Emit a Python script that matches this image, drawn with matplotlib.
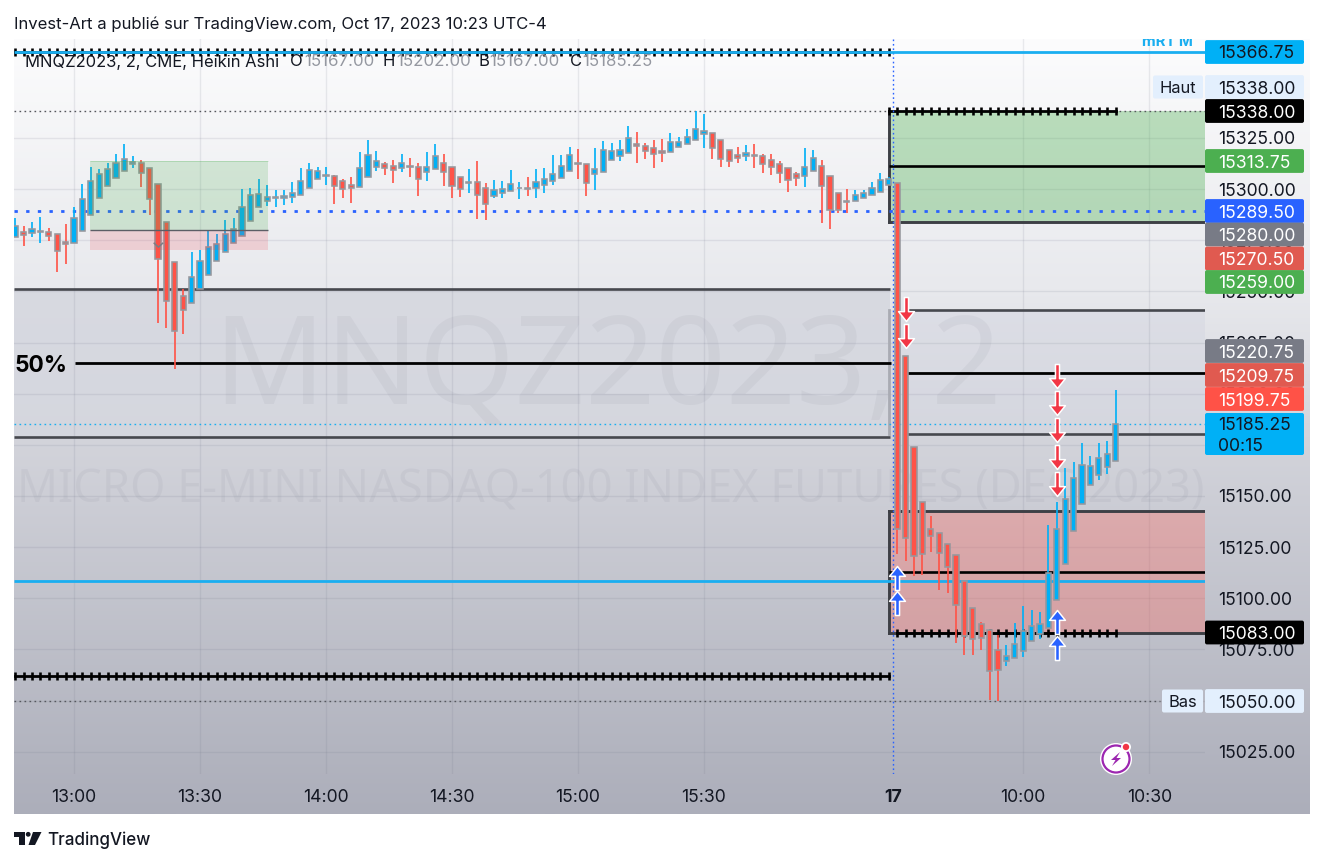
import numpy as np
import matplotlib
matplotlib.use("Agg")
import matplotlib.pyplot as plt
from matplotlib.patches import Rectangle, FancyBboxPatch, Circle, Polygon
from matplotlib.path import Path

FONT = "Inter"
plt.rcParams["font.family"] = [FONT, "DejaVu Sans"]

# ---- data: points above 15000, one value per 2-minute bar
BASE = 15000
first_bar = -7
opens = [276.75,279.25,278.5,279,279.25,278,274,273.75,279.5,287.25,295.75,301.25,305.5,309,312,312.5,310.25,302.25,284,264.5,
 247.75,244.25,251,258,264.75,269,273.5,277.25,284.5,291,294.25,295.5,295.75,296,297,300.5,304.75,306.5,306.5,304,
 301.75,301,305.75,311,312.25,311.5,310.25,311.25,311,308.25,309.75,312.5,310.75,305.75,302.75,303.25,300.5,296.75,298,299,
 300.5,300.5,300.5,301.75,303.75,305.5,308.75,312.75,312.25,307.5,308.5,314,316.25,317.75,322,321,320,318.5,318.25,320.5,
 322,323.75,326.75,327.5,323.75,319.25,316.75,316,316.75,316.25,314,312.25,310.25,307.5,306.5,308.75,311.5,306.5,298,294.25,
 294,295.75,297,298.5,301.75,303,218.5,173.75,147,134,131.75,126.75,121,108.5,95,87.5,84.25,74.5,69.5,71,
 74,79.25,82.5,85.25,99,116.5,132.75,146,155.25,160,164,167]
highs = [285.75,282,283.75,286.5,280.75,278.25,282.75,291,302.25,310.75,309.75,312.5,317,322,316.25,314,310.25,302.25,284,264.5,
 251,269,270.25,280,278.25,285,285.75,300,300.5,305,302,299.5,299.5,303.25,310.5,312.75,311,311,307,305,
 306,318,324,318.75,313,314.25,317.25,315.25,312.5,318,322,317.25,310.75,305.75,309.75,313.75,303,304.5,303.75,309.25,
 303.5,306,309.75,310.25,316.75,316.75,320.5,319.5,312.25,320,323.25,322.5,323.75,331,328,322.5,323.75,324.25,327.5,325.25,
 329.5,338,336.75,327.5,323.75,319.25,320.75,321.5,322.25,317.25,317,313.75,310.25,308.25,320,319,314,306.5,298,300,
 299.5,299.75,303.5,308,306,303,218.5,173.75,147,140,131.75,126.75,121,108.5,95,88.5,84.25,82.25,77,88,
 96,94.5,93.5,136,147,163.5,166.5,175.75,169.5,175.75,176.75,202]
lows = [276.75,272.25,276.5,273.5,274.5,259.5,263.25,273.75,279.5,287.25,295.75,301.25,305.5,309,310.25,301,287.25,234.75,232,212.25,
 229,244.25,251,258,264.75,269,273.5,277.25,284.5,291,291.5,291,292.25,293,297,300.5,304.75,301.75,292.75,295.75,
 293.25,301,305.75,308.75,307,303,308.25,306,296.5,304,309.75,301.5,295.75,296.25,298,285.25,285,295.75,295.75,299,
 295.25,296.5,295.75,298,302,305.5,308.75,305,296.5,299.75,308.5,314,313.5,317.75,312.5,314.5,310.25,313,318.25,320.5,
 322,323.75,320.25,314.75,310.75,310.75,312.5,313.75,310.25,308,307,303,298.5,301.25,301,308.75,283.5,280.5,288.5,288.5,
 294,295.75,297,298.5,301.75,121.5,118,111,111.5,122.5,104,102.5,78,72.5,72.5,74.5,50.5,50,66.75,71,
 71.5,79.25,80.25,85.25,99,116.5,132.75,146,155.25,157.75,160.5,167]
closes = [282,277.5,280.25,279.5,277.25,269.75,273,285.75,295,304,307.25,309.75,312.5,314.5,313.25,308,295,265.75,245.5,230.75,
 240.75,257,265,271.5,273,278,280.5,291,297.25,297.5,296.25,296,296.5,298,303.75,309.25,308.75,307,301.5,300,
 300.75,310.25,316.5,313.75,310.25,309.25,312.5,310.75,305,310.75,316,308.5,301.25,300,303.25,297.25,292.75,299.75,300,302.25,
 300.75,300,303.5,305,307.5,311.5,316.5,312,302.75,310,319.25,318.75,319.25,325,321.25,318.75,317,317.75,323,323,
 325.25,329.5,328.5,320.25,314.75,313.75,315,317.5,316.25,312,311,308,304.5,305.5,310.75,315,301.25,290,290,293.75,
 297.25,298.25,300.75,304.5,304.75,134,129.25,120.5,121.5,130.25,122,115.25,96.5,81.75,80.25,80.5,64.25,65,72,77.5,
 83.75,86.25,87.25,112.25,134,148.5,159,165,164.5,168.5,170.5,185.25]

time_ticks = [0, 15, 30, 45, 60, 75, 97.52, 113, 128]
time_labels = ["13:00", "13:30", "14:00", "14:30", "15:00", "15:30", "17", "10:00", "10:30"]
price_ticks = [15025, 15050, 15075, 15100, 15125, 15150, 15175, 15200, 15225, 15250, 15275, 15300, 15325]

tag_labels = ["15366.75", "15338.00", "15338.00", "15313.75", "15289.50", "15280.00", "15270.50", "15259.00",
              "15220.75", "15209.75", "15199.75", "15083.00", "15050.00"]
tag_fill = ["#00b0f6", "#e3effd", "#000000", "#4caf50", "#2962ff", "#787b86", "#e05a50", "#4caf50",
            "#787b86", "#e05a50", "#ff5247", "#000000", "#e3effd"]
tag_ink = ["#131722", "#131722", "#ffffff", "#ffffff", "#ffffff", "#ffffff", "#ffffff", "#ffffff",
           "#ffffff", "#ffffff", "#ffffff", "#ffffff", "#131722"]
tag_pixel_y = [52, 87, 111, 161, 211, 234.5, 258.5, 282, 351, 375, 399, 632.5, 701]

# ---- figure
W, H = 1325, 864
PX = 0.72  # points per pixel at dpi 100
NUM = 17.6 * PX
fig = plt.figure(figsize=(W / 100, H / 100), dpi=100, facecolor="white")

back = fig.add_axes([0, 0, 1, 1], zorder=0)
stops_y = [39, 289, 437, 814]
stops_c = np.array([(252, 252, 253), (232, 233, 237), (211, 212, 219), (172, 174, 186)], float) / 255
rows = np.linspace(39, 814, 400)
grad = np.stack([np.interp(rows, stops_y, stops_c[:, k]) for k in range(3)], axis=1)[:, None, :]
back.imshow(grad, extent=(14, 1310, 814, 39), aspect="auto", zorder=0)
back.set_xlim(0, W); back.set_ylim(H, 0); back.axis("off")
wm = (0.28, 0.29, 0.36, 0.055)
panel_clip = Rectangle((14, 39), 1191, 735, transform=back.transData)
t1 = back.text(608, 371, "MNQZ2023, 2", fontsize=123 * PX, color=wm, ha="center", va="center",
               family="Noto Sans", zorder=1)
t2 = back.text(611, 490, "MICRO E-MINI NASDAQ-100 INDEX FUTURES (DEC 2023)", fontsize=45.3 * PX, color=wm,
               ha="center", va="center", family="Noto Sans", zorder=1)
t1.set_clip_path(panel_clip); t2.set_clip_path(panel_clip)

ax = fig.add_axes([14 / W, (H - 774) / H, 1191 / W, 735 / H], zorder=5)
ax.patch.set_alpha(0)
ax.set_xlim((14 - 74) / 8.4, (1205 - 74) / 8.4)
ax.set_ylim(15025 - 22.3 / 2.046, 15025 + 712.7 / 2.046)
for s in ax.spines.values():
    s.set_visible(False)

ax.set_axisbelow(True)
ax.grid(True, color=(0.42, 0.44, 0.52), alpha=0.13, lw=1.0)
ax.yaxis.tick_right()
ax.set_yticks(price_ticks)
ax.set_yticklabels([f"{p}.00" for p in price_ticks], va="center_baseline")
ax.set_xticks(time_ticks)
ax.set_xticklabels(time_labels)
ax.tick_params(axis="both", length=0, labelsize=NUM, labelcolor="#131722")
ax.tick_params(axis="y", pad=13 * PX)
ax.tick_params(axis="x", pad=15 * PX)
ax.get_xticklabels()[6].set_fontweight("bold")
ax.get_xgridlines()[6].set_visible(False)

x_left, x_right = ax.get_xlim()
idx = np.arange(first_bar, first_bar + len(opens))
o, h, l, c = (BASE + np.array(a, float) for a in (opens, highs, lows, closes))
BREAK = 97.5

# ---- shaded zones
back.add_patch(Rectangle((x_left, 15178.8), BREAK - 0.4 - x_left, 15251.1 - 15178.8, transform=ax.transData,
                         fc=(213 / 255, 215 / 255, 223 / 255, 0.85), ec="none", zorder=0.5))
back.add_patch(Rectangle((97.0, 15180.3), x_right - 97.0, 15240.9 - 15180.3, transform=ax.transData,
                         fc=(214 / 255, 216 / 255, 226 / 255, 0.55), ec="none", zorder=0.5))
ax.plot([97.0, 97.0], [15180.3, 15240.9], color="#a9abb3", lw=2, zorder=2)
ax.add_patch(Rectangle((97.0, 15283.9), x_right - 97.0, 15338 - 15283.9, fc=(76 / 255, 175 / 255, 80 / 255, 0.36),
                       ec="none", zorder=1.5))
ax.add_patch(Rectangle((97.0, 15083), x_right - 97.0, 15142.6 - 15083, fc=(255 / 255, 100 / 255, 90 / 255, 0.33),
                       ec="none", zorder=1.5))
for y in (15083, 15142.6, 15283.9):
    ax.plot([97.0, x_right], [y, y], color="#3d3f45", lw=2.1, zorder=2)
ax.plot([97.0, 97.0], [15083, 15142.6], color="#3d3f45", lw=2.1, zorder=2, solid_capstyle="projecting")
ax.plot([97.0, 97.0], [15283.9, 15338], color="#3d3f45", lw=2.1, zorder=2, solid_capstyle="projecting")

# ---- level lines
ax.hlines([15251.1, 15178.8], x_left, 97.14, color="#46484e", lw=1.9, zorder=2)
ax.hlines([15240.9, 15180.3], 98.9, x_right, color="#46484e", lw=1.9, zorder=2)
ax.hlines(15215, 0.12, 97.3, color="#000000", lw=2.0, zorder=2.2)
ax.hlines(15210.2, 98.9, x_right, color="#000000", lw=2.0, zorder=2.2)
ax.hlines(15311.25, 97.0, x_right, color="#000000", lw=1.9, zorder=2.2)
ax.hlines(15112.8, 97.0, x_right, color="#000000", lw=1.9, zorder=2.2)
ax.hlines(15108.4, x_left, x_right, color="#1aaef0", lw=2.0, zorder=2.4)
ax.plot([x_left, x_right], [15289.5, 15289.5], color="#2962ff", lw=2.0, dashes=(1.2, 3.0), zorder=2.4)
ax.plot([x_left, x_right], [15185.25, 15185.25], color="#1aaef0", lw=1.0, dashes=(1.2, 2.4), zorder=2.4)
ax.plot([x_left, x_right], [15338, 15338], color="#55575d", lw=1.0, dashes=(1.2, 2.4), zorder=2.4)
ax.plot([x_left, 129.3], [15050, 15050], color="#55575d", lw=1.0, dashes=(1.2, 2.4), zorder=2.4)
ax.plot([BREAK, BREAK], ax.get_ylim(), color="#2962ff", lw=1.0, dashes=(1.2, 2.0), zorder=2.5)

# ---- barbed lines, one barb per bar
barbed = [(-7, 97, 15367.2), (-7, 97, 15062), (97, 124, 15338), (98, 124, 15083)]
for a, b, lv in barbed:
    xs = np.arange(a, b + 1)
    ax.plot(xs, np.full(xs.shape, lv), color="#000000", lw=2.0, marker="|", ms=8.5 * PX, mew=2.6 * PX, zorder=2.45)
ax.hlines(15366.75, x_left, x_right, color="#1aaef0", lw=2.0, zorder=2.6)

# ---- candles
up = c >= o
UPC, DNC, EDGE = "#00b0f6", "#ff5347", "#96979d"
ax.vlines(idx, l, h, color=np.where(up, UPC, DNC).tolist(), lw=1.6 * PX * 1.05, zorder=3)
bottoms = np.minimum(o, c)
heights = np.maximum(np.abs(c - o), 0.25)
ax.bar(idx, heights, bottom=bottoms, width=0.64, color=np.where(up, UPC, DNC).tolist(),
       edgecolor=EDGE, linewidth=1.15, zorder=4)

# ---- position tool, over the candles
ax.add_patch(Rectangle((1.9, 15280), 21.2, 15313.75 - 15280, fc=(76 / 255, 175 / 255, 80 / 255, 0.2), ec="none", zorder=4.2))
ax.add_patch(Rectangle((1.9, 15270.25), 21.2, 9.75, fc=(242 / 255, 54 / 255, 69 / 255, 0.16), ec="none", zorder=4.2))
ax.hlines(15280, 1.9, 23.1, color="#5c5e66", lw=1.0, zorder=4.3)
ax.hlines(15313.75, 1.9, 23.1, color="#4caf50", lw=0.6, alpha=0.3, zorder=4.3)
ax.plot([9.55, 10.05, 10.55], [15273.5, 15271.6, 15273.5], color="#7b7d85", lw=1.1, zorder=4.4)

# ---- arrows
down_path = Path([(-.17, 1), (.17, 1), (.17, -.18), (.66, -.18), (0, -1), (-.66, -.18), (-.17, -.18), (-.17, 1)], closed=True)
up_path = Path([(-.17, -1), (.17, -1), (.17, .18), (.66, .18), (0, 1), (-.66, .18), (-.17, .18), (-.17, -1)], closed=True)
down_bars = [99, 99, 117, 117, 117, 117, 117]
down_prices = [15241.4, 15228.2, 15208.6, 15195.4, 15182.2, 15169, 15155.8]
up_bars = [98, 98, 117, 117]
up_prices = [15109.9, 15097.7, 15088.4, 15075.7]
ax.plot(down_bars, down_prices, ls="none", marker=down_path, ms=24 * PX, mfc="#f23645", mec="white", mew=1.1, zorder=6)
ax.plot(up_bars, up_prices, ls="none", marker=up_path, ms=24 * PX, mfc="#2962ff", mec="white", mew=1.1, zorder=6)

ax.text(130.2, 15369.9, "mRT M", color="#1aaef0", fontsize=15 * PX, fontweight="bold", ha="center", va="baseline",
        clip_on=True, zorder=6)

# ---- chrome in pixel space
top = fig.add_axes([0, 0, 1, 1], zorder=10)
top.set_xlim(0, W); top.set_ylim(H, 0); top.axis("off"); top.patch.set_alpha(0)

TXT = "#131722"
VA = "center_baseline"
top.text(14, 22.5, "Invest-Art a publié sur TradingView.com, Oct 17, 2023 10:23 UTC-4", fontsize=16.7 * PX, color=TXT,
         va=VA, ha="left")
top.text(25, 60.5, "MNQZ2023, 2, CME, Heikin Ashi", fontsize=16.6 * PX, color=TXT, va=VA)
for x_k, k, x_v, v in [(290, "O", 304, "15167.00"), (383, "H", 396, "15202.00"), (478, "B", 489, "15167.00"), (570, "C", 582, "15185.25")]:
    top.text(x_k, 60.5, k, fontsize=16.6 * PX, color=TXT, va=VA, ha="left")
    top.text(x_v, 60.5, v, fontsize=16.9 * PX, color="#9598a1", va=VA, ha="left")
top.text(15, 364, "50%", fontsize=22.8 * PX, color="#000000", fontweight="bold", va=VA, ha="left")


def tag(x0, x1, yc, hgt, fill):
    top.add_patch(FancyBboxPatch((x0 + 1, yc - hgt / 2 + 1), x1 - x0 - 2, hgt - 2, boxstyle="round,pad=1,rounding_size=2",
                                 fc=fill, ec="none", zorder=2))


for lab, fill, ink, yp in zip(tag_labels, tag_fill, tag_ink, tag_pixel_y):
    tag(1205, 1304, yp, 23.8, fill)
    top.text(1218, yp, lab, fontsize=NUM, color=ink, va=VA, ha="left", zorder=3)
tag(1205, 1304, 434, 42, "#00b0f6")
top.text(1218, 424, "15185.25", fontsize=NUM, color=TXT, va=VA, zorder=3)
top.text(1218, 444.5, "00:15", fontsize=NUM, color=TXT, va=VA, zorder=3)
tag(1153, 1203, 87, 23, "#e3effd")
top.text(1178, 87, "Haut", fontsize=16.5 * PX, color=TXT, va=VA, ha="center", zorder=3)
tag(1162, 1203, 701, 23, "#e3effd")
top.text(1182.5, 701, "Bas", fontsize=16.5 * PX, color=TXT, va=VA, ha="center", zorder=3)

# bolt badge
top.add_patch(Circle((1116, 759), 16, fc="white", ec="none", zorder=3))
top.add_patch(Circle((1116, 759), 13.5, fc="none", ec="#9c27b0", lw=1.6, zorder=4))
top.add_patch(Polygon([(1120, 752), (1111, 760), (1115.5, 760), (1112, 766), (1121, 758), (1116.5, 758)], fc="#9c27b0", ec="none", zorder=4))
top.add_patch(Circle((1126, 747), 5, fc="white", ec="none", zorder=5))
top.add_patch(Circle((1126, 747), 3.2, fc="#f23645", ec="none", zorder=6))

# logo
LOGO = "#131722"
top.add_patch(Polygon([(14, 832), (24.5, 832), (24.5, 845), (19, 845), (19, 836.5), (14, 836.5)], fc=LOGO, ec="none"))
top.add_patch(Circle((28.2, 834.3), 2.4, fc=LOGO, ec="none"))
top.add_patch(Polygon([(33, 832), (41.5, 832), (35, 845), (28.5, 845)], fc=LOGO, ec="none"))
top.text(47, 840, "TradingView", fontsize=17 * PX, color=LOGO, va="center", ha="left", fontweight="medium")

fig.savefig("out.png", dpi=100, facecolor="white")
